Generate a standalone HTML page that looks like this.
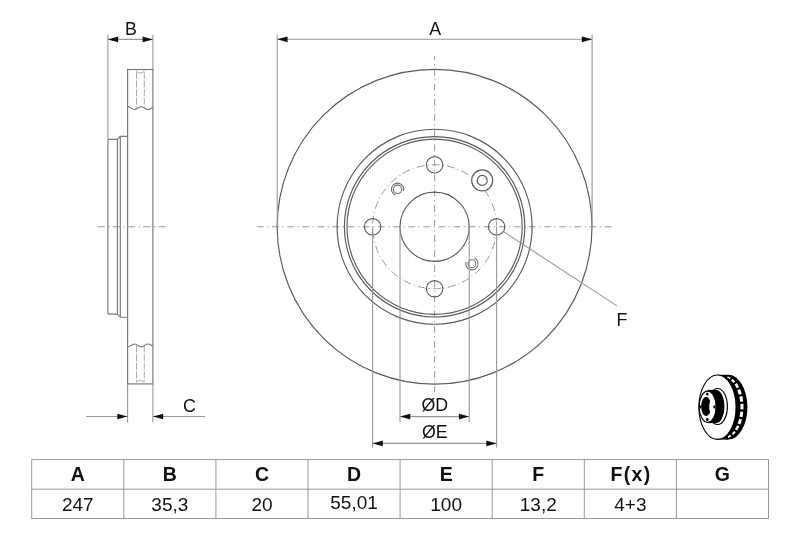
<!DOCTYPE html>
<html><head><meta charset="utf-8">
<style>
html,body{margin:0;padding:0;background:#fff;}
body{width:800px;height:533px;overflow:hidden;}
svg{display:block;will-change:transform;}
text{font-family:"Liberation Sans",sans-serif;fill:#111;}
</style></head><body>
<svg width="800" height="533" viewBox="0 0 800 533">
<defs>
<path id="arL" d="M0,0 L10.3,-2.85 L10.3,2.85 Z"/>
</defs>
<g fill="none" stroke-linecap="butt">
<!-- centerlines -->
<g stroke="#999" stroke-width="1" stroke-dasharray="6.8 3.5 1.3 3.52">
<line x1="97.5" y1="226.75" x2="166" y2="226.75" stroke-dasharray="7.2 3.6 1.3 3.17"/>
<line x1="256.9" y1="226.75" x2="611.9" y2="226.75"/>
<line x1="434.6" y1="56.3" x2="434.6" y2="392.4" stroke-dashoffset="2.65"/>
<circle cx="434.6" cy="226.75" r="62" stroke-dasharray="8 3 1.2 3"/>
</g>
<!-- main disc outlines -->
<g stroke="#5a5a5a" stroke-width="1.15">
<circle cx="434.6" cy="226.75" r="157.4"/>
<circle cx="434.6" cy="226.75" r="97.5"/>
<circle cx="434.6" cy="226.75" r="90.2"/>
<circle cx="434.6" cy="226.75" r="87.6"/>
<circle cx="434.6" cy="226.75" r="34.6"/>
<!-- bolt holes -->
<circle cx="434.6" cy="164.75" r="8.2"/>
<circle cx="434.6" cy="288.75" r="8.2"/>
<circle cx="372.6" cy="226.75" r="8.2"/>
<circle cx="496.6" cy="226.75" r="8.2"/>
<!-- large hole -->
<circle cx="482.2" cy="180.4" r="10.5" fill="#fff"/>
<circle cx="482.2" cy="180.4" r="5"/>
<!-- small threaded holes -->
<g stroke="#6a6a6a" stroke-width="1.05">
<circle cx="397.6" cy="189.3" r="4.2"/>
<path d="M395.30,195.00 A6.15,6.15 0 1 1 403.48,191.10"/>
<circle cx="471.9" cy="263.7" r="3.9"/>
<path d="M474.20,258.00 A6.15,6.15 0 1 1 466.02,261.90"/>
</g>
</g>
<!-- extension lines -->
<g stroke="#999" stroke-width="1.1">
<line x1="277.25" y1="34.6" x2="277.25" y2="226.75"/>
<line x1="592.1" y1="34.6" x2="592.1" y2="226.75"/>
<line x1="277.25" y1="39.3" x2="592.1" y2="39.3"/>
<line x1="372.6" y1="226.75" x2="372.6" y2="447.5"/>
<line x1="496.6" y1="226.75" x2="496.6" y2="447.5"/>
<line x1="400" y1="226.75" x2="400" y2="422.3"/>
<line x1="469.2" y1="226.75" x2="469.2" y2="422.3"/>
<line x1="400" y1="416.6" x2="469.2" y2="416.6"/>
<line x1="372.6" y1="443.4" x2="496.6" y2="443.4"/>
<!-- leader F -->
<line x1="503.8" y1="231.8" x2="616.9" y2="305.9"/>
<!-- B dims -->
<line x1="107.9" y1="34.7" x2="107.9" y2="139.4"/>
<line x1="152.9" y1="34.7" x2="152.9" y2="69.5"/>
<line x1="107.9" y1="39.4" x2="152.9" y2="39.4"/>
<!-- C dims -->
<line x1="127.6" y1="383.9" x2="127.6" y2="422.4"/>
<line x1="152.9" y1="383.9" x2="152.9" y2="422.4"/>
<line x1="86.3" y1="416.5" x2="127.6" y2="416.5"/>
<line x1="152.9" y1="416.5" x2="205" y2="416.5"/>
</g>
<!-- side profile -->
<g stroke="#777" stroke-width="1.15">
<rect x="127.6" y="69.5" width="25.3" height="314.4"/>
<path d="M107.9,139.4 L117.4,139.4 L120.3,136.3 L127.6,136.3"/>
<path d="M107.9,314.1 L117.4,314.1 L120.3,317.2 L127.6,317.2"/>
<line x1="107.9" y1="139.4" x2="107.9" y2="314.1"/>
<line x1="117.4" y1="139.4" x2="117.4" y2="314.1"/>
<line x1="120.3" y1="136.3" x2="120.3" y2="317.2"/>
<!-- wave break lines -->
<path d="M127.6,106.5 C130,106.5 131.5,109.5 134.5,109.5 C137.5,109.5 138.5,106.7 141.3,106.7 C144,106.7 145,109.5 148,109.5 C150.5,109.5 151.5,107.5 152.9,107.5"/>
<path d="M127.6,347 C130,347 131.5,344 134.5,344 C137.5,344 138.5,346.8 141.3,346.8 C144,346.8 145,344 148,344 C150.5,344 151.5,346 152.9,346"/>
</g>
<g stroke="#aaa" stroke-width="1">
<!-- hidden vent lines -->
<g stroke-dasharray="7 1.6">
<line x1="136.5" y1="72" x2="136.5" y2="107.5"/>
<line x1="144.3" y1="72" x2="144.3" y2="107.5"/>
<line x1="136.5" y1="345.5" x2="136.5" y2="381.4"/>
<line x1="144.3" y1="345.5" x2="144.3" y2="381.4"/>
</g>
<path d="M136.5,69.5 C136.5,74.3 144.3,74.3 144.3,69.5"/>
<path d="M136.5,383.9 C136.5,379.1 144.3,379.1 144.3,383.9"/>
</g>
</g>
<!-- arrows -->
<g fill="#111">
<use href="#arL" transform="translate(277.25,39.3)"/>
<use href="#arL" transform="translate(592.1,39.3) rotate(180)"/>
<use href="#arL" transform="translate(107.9,39.4)"/>
<use href="#arL" transform="translate(152.9,39.4) rotate(180)"/>
<use href="#arL" transform="translate(127.6,416.5) rotate(180)"/>
<use href="#arL" transform="translate(152.9,416.5)"/>
<use href="#arL" transform="translate(400,416.6)"/>
<use href="#arL" transform="translate(469.2,416.6) rotate(180)"/>
<use href="#arL" transform="translate(372.6,443.4)"/>
<use href="#arL" transform="translate(496.6,443.4) rotate(180)"/>
</g>
<!-- labels -->
<g font-size="17.8" text-anchor="middle">
<text x="435.2" y="35">A</text>
<text x="130.9" y="34.8">B</text>
<text x="189.4" y="411.9">C</text>
<text x="434.8" y="411.1">ØD</text>
<text x="434.8" y="437.6">ØE</text>
<text x="621.9" y="325.5">F</text>
</g>
<!-- small disc icon -->
<g id="icon">
<ellipse cx="728.4" cy="407.2" rx="19" ry="32.4" fill="#000"/>
<rect x="717.5" y="374.8" width="10.9" height="64.8" fill="#000"/>
<g fill="none" stroke="#fff">
<path stroke-width="1.7" d="M727.43,376.99 A18.8,31 0 0 1 730.24,378.46"/>
<path stroke-width="2.1" d="M731.82,379.65 A18.8,31 0 0 1 734.33,382.22"/>
<path stroke-width="2.6" d="M735.56,383.84 A18.8,31 0 0 1 737.83,387.73"/>
<path stroke-width="3.0" d="M738.67,389.60 A18.8,31 0 0 1 740.29,394.30"/>
<path stroke-width="3.0" d="M740.83,396.44 A18.8,31 0 0 1 741.70,401.66"/>
<path stroke-width="3.0" d="M741.90,403.96 A18.8,31 0 0 1 741.95,409.36"/>
<path stroke-width="3.0" d="M741.80,411.68 A18.8,31 0 0 1 741.05,416.93"/>
<path stroke-width="3.0" d="M740.56,419.11 A18.8,31 0 0 1 739.04,423.90"/>
<path stroke-width="2.6" d="M738.23,425.81 A18.8,31 0 0 1 736.05,429.84"/>
<path stroke-width="2.1" d="M734.85,431.53 A18.8,31 0 0 1 732.40,434.23"/>
<path stroke-width="1.7" d="M730.85,435.52 A18.8,31 0 0 1 728.07,437.14"/>
</g>
<ellipse cx="717.5" cy="407.2" rx="18.6" ry="32.2" fill="#fff" stroke="#000" stroke-width="1.1"/>
<ellipse cx="717.6" cy="406.5" rx="9.8" ry="18" fill="#fff" stroke="#000" stroke-width="1.2"/>
<ellipse cx="716.2" cy="406.5" rx="8.3" ry="16.6" fill="#000"/>
<rect x="707.6" y="389.9" width="8.6" height="33.2" fill="#000"/>
<ellipse cx="707.65" cy="406.7" rx="8.5" ry="15.6" fill="#fff" stroke="#000" stroke-width="1.2"/>
<ellipse cx="706.1" cy="406.5" rx="4.9" ry="9.7" fill="#000"/>
<ellipse cx="711.1" cy="406.6" rx="1.9" ry="5.9" fill="#fff"/>
<g fill="#000">
<ellipse cx="707.3" cy="394" rx="1.3" ry="1.6"/>
<ellipse cx="707.3" cy="419.6" rx="1.3" ry="1.6"/>
<ellipse cx="700.3" cy="406.9" rx="1.2" ry="1.6"/>
<ellipse cx="714.4" cy="406.9" rx="1.2" ry="1.6"/>
</g>
</g>
<!-- table -->
<g stroke="#999" stroke-width="1" fill="none">
<rect x="31.7" y="459.6" width="736.8" height="58.9"/>
<line x1="31.7" y1="489.2" x2="768.5" y2="489.2"/>
<line x1="123.8" y1="459.6" x2="123.8" y2="518.5"/>
<line x1="215.9" y1="459.6" x2="215.9" y2="518.5"/>
<line x1="308" y1="459.6" x2="308" y2="518.5"/>
<line x1="400.1" y1="459.6" x2="400.1" y2="518.5"/>
<line x1="492.2" y1="459.6" x2="492.2" y2="518.5"/>
<line x1="584.3" y1="459.6" x2="584.3" y2="518.5"/>
<line x1="676.4" y1="459.6" x2="676.4" y2="518.5"/>
</g>
<g font-size="19.5" font-weight="bold" text-anchor="middle">
<text x="77.75" y="481.3">A</text>
<text x="169.85" y="481.3">B</text>
<text x="261.95" y="481.3">C</text>
<text x="354.05" y="481.3">D</text>
<text x="446.15" y="481.3">E</text>
<text x="538.25" y="481.3">F</text>
<text x="631.05" y="481.3" letter-spacing="1.4">F(x)</text>
<text x="722.45" y="481.3">G</text>
</g>
<g font-size="19" text-anchor="middle">
<text x="77.75" y="510.7">247</text>
<text x="169.85" y="510.7">35,3</text>
<text x="261.95" y="510.7">20</text>
<text x="354.05" y="509">55,01</text>
<text x="446.15" y="510.7">100</text>
<text x="538.25" y="510.7">13,2</text>
<text x="630.35" y="510.7">4+3</text>
</g>
</svg>
</body></html>
